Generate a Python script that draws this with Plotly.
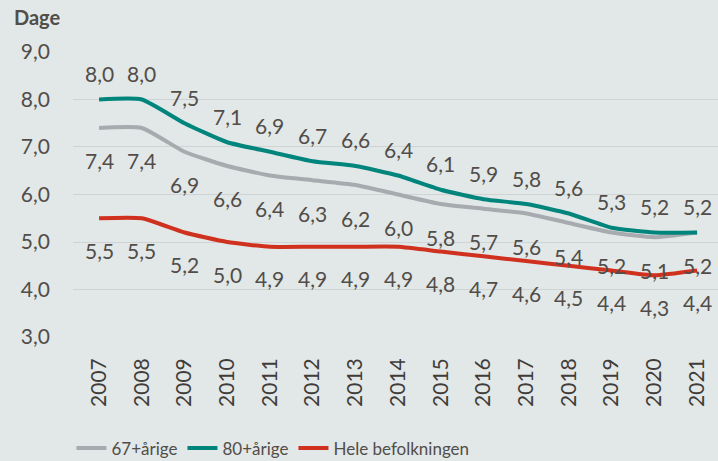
import plotly.graph_objects as go

years = list(range(2007, 2022))
age67 = [7.4, 7.4, 6.9, 6.6, 6.4, 6.3, 6.2, 6.0, 5.8, 5.7, 5.6, 5.4, 5.2, 5.1, 5.2]
age80 = [8.0, 8.0, 7.5, 7.1, 6.9, 6.7, 6.6, 6.4, 6.1, 5.9, 5.8, 5.6, 5.3, 5.2, 5.2]
hele = [5.5, 5.5, 5.2, 5.0, 4.9, 4.9, 4.9, 4.9, 4.8, 4.7, 4.6, 4.5, 4.4, 4.3, 4.4]
names = ["67+årige", "80+årige", "Hele befolkningen"]
colors = ["#a7abaf", "#00857d", "#d0311f"]
label_shift = [-33, 26, -32]

FONT = "Lato"
TXT = "#514d49"
BG = "#e2e7e7"

fig = go.Figure()
for vals, name, col, sh in zip([age67, age80, hele], names, colors, label_shift):
    fig.add_trace(go.Scatter(x=years, y=vals, mode="lines", name=name,
                             line=dict(color=col, width=4, shape="spline", smoothing=0.5)))
    for x, v in zip(years, vals):
        fig.add_annotation(x=x, y=v, text=f"{v:.1f}".replace(".", ","), showarrow=False,
                           yshift=sh, font=dict(family=FONT, size=21, color=TXT))

fig.add_annotation(xref="paper", yref="paper", x=-0.095, y=1.0, yshift=34,
                   xanchor="left", yanchor="middle", text="<b>Dage</b>", showarrow=False,
                   font=dict(family=FONT, size=20, color=TXT))

fig.update_layout(
    width=718, height=461,
    paper_bgcolor=BG, plot_bgcolor=BG,
    margin=dict(l=73, r=0, t=51, b=123, autoexpand=False),
    separators=",.",
    font=dict(family=FONT, size=19, color=TXT),
    showlegend=True,
    legend=dict(orientation="h", x=0.31, xanchor="center", y=-0.385, yanchor="middle",
                font=dict(family=FONT, size=17, color=TXT), itemwidth=30,
                bgcolor="rgba(0,0,0,0)"),
    xaxis=dict(range=[2006.39, 2021.49], tickmode="array", tickvals=years,
               ticktext=[str(y) for y in years], tickangle=-90, showgrid=False,
               zeroline=False, showline=False, ticks="", ticklabelstandoff=15,
               automargin=False,
               tickfont=dict(family=FONT, size=21, color="#3f3c39")),
    yaxis=dict(range=[2.98, 9.02], tickvals=[3, 4, 5, 6, 7, 8, 9], tickformat=".1f",
               showgrid=True, gridcolor="#cfd3d3", gridwidth=1, zeroline=False,
               showline=False, ticks="", ticklabelstandoff=22, automargin=False,
               tickfont=dict(family=FONT, size=21, color=TXT)),
)

fig.write_html("out.html", config={"displayModeBar": False},
               post_script="document.body.style.margin='0';")
